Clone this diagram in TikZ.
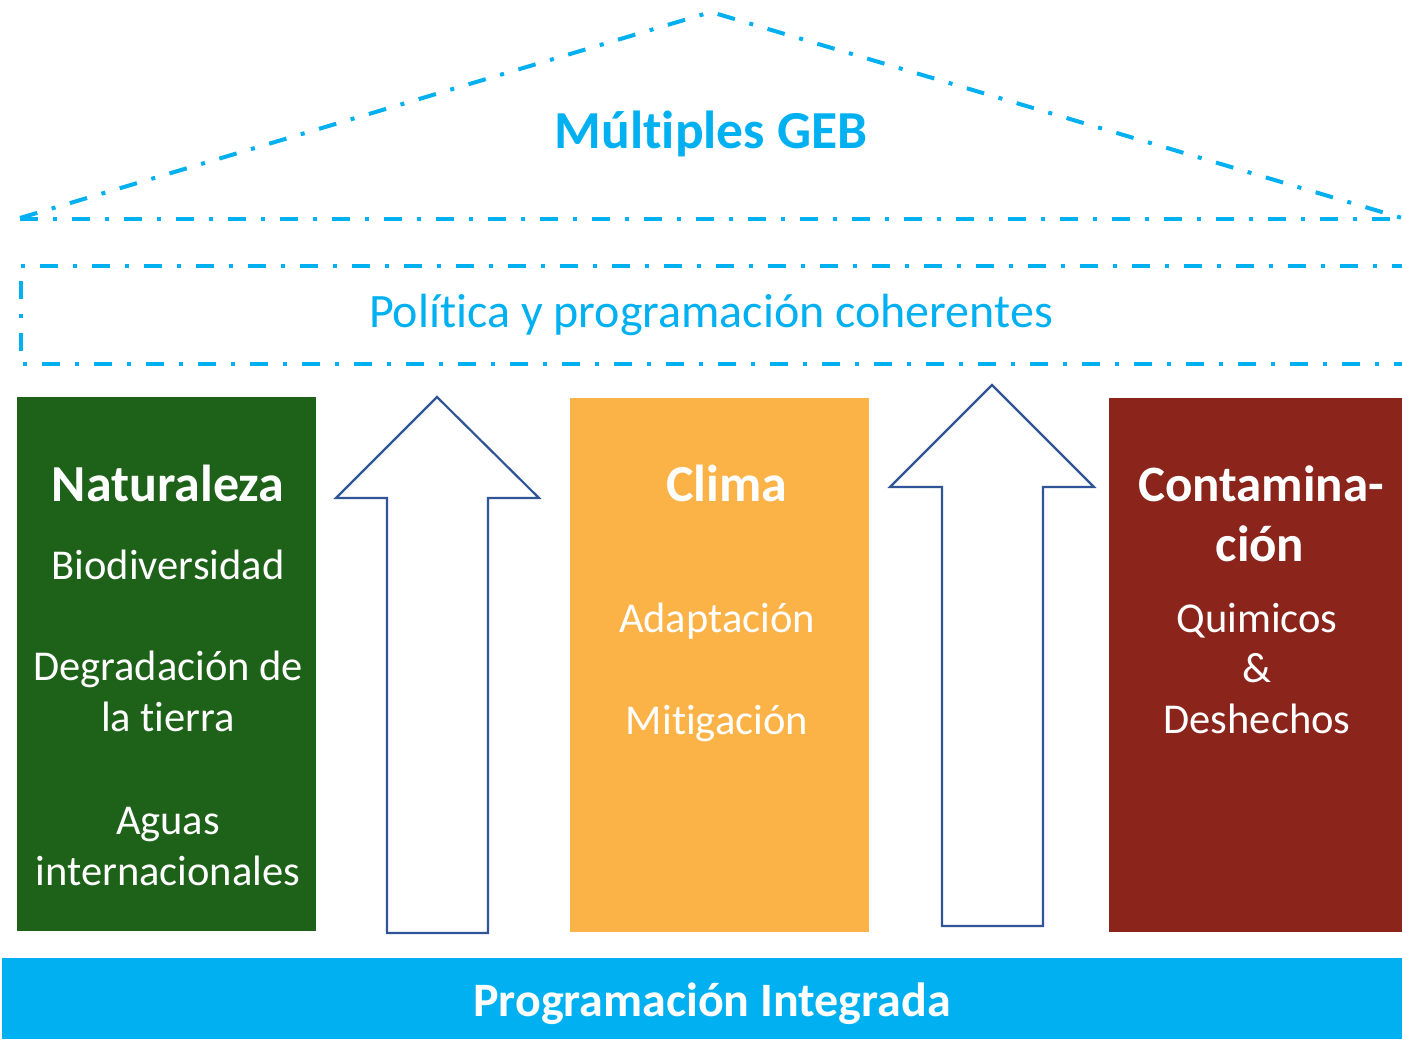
\documentclass[tikz,border=0pt]{standalone}
\usepackage{fontspec}
\setmainfont{Carlito}[Ligatures=NoCommon]
\definecolor{gebblue}{HTML}{00B0F0}
\definecolor{natgreen}{HTML}{1E6219}
\definecolor{climorange}{HTML}{FBB247}
\definecolor{contred}{HTML}{8B251C}
\definecolor{arrowblue}{HTML}{2F5597}
\begin{document}
\begin{tikzpicture}[x=1pt,y=-1pt,
  dashdot/.style={draw=gebblue,line width=4pt,dash pattern=on 18pt off 15pt on 4pt off 15pt},
  head/.style={text=white,font=\fontsize{52}{60}\selectfont\bfseries,anchor=base,inner sep=0pt},
  item/.style={text=white,font=\fontsize{42.5}{50}\selectfont,anchor=base,inner sep=0pt},
  bigarrow/.style={draw=arrowblue,line width=2.2pt,fill=white,line join=miter}]
\useasboundingbox (0,0) rectangle (1402,1039);
% roof
\draw[dashdot] (20,218) -- (711,12) -- (1402,218);
\draw[dashdot] (20,219) -- (1410,219);
\draw[dashdot] (1410,266) -- (21,266) -- (21,364) -- (1410,364);
\node[text=gebblue,font=\fontsize{53.5}{60}\selectfont\bfseries,anchor=base,inner sep=0pt] (geb) at (711,148) {Múltiples GEB};
\node[text=gebblue,font=\fontsize{48}{56}\selectfont,anchor=base,inner sep=0pt] (pol) at (711,327) {Política y programación coherentes};
% pillars
\fill[natgreen] (17,397) rectangle (316,931);
\fill[climorange] (570,398) rectangle (869,932);
\fill[contred] (1109,398) rectangle (1402,932);
% arrows
\draw[bigarrow] (437,397) -- (539,498) -- (488,498) -- (488,933) -- (387,933) -- (387,498) -- (336,498) -- cycle;
\draw[bigarrow] (992,385) -- (1094,487) -- (1043,487) -- (1043,926) -- (942,926) -- (942,487) -- (890,487) -- cycle;
% texts
\node[head] (nat) at (168,501) {Naturaleza};
\node[item] (bio) at (168,579) {Biodiversidad};
\node[item] (deg1) at (168,680) {Degradación de};
\node[item] (deg2) at (168,731) {la tierra};
\node[item] (agu1) at (168,834) {Aguas};
\node[item] (agu2) at (168,885) {internacionales};
\node[head] (cli) at (727,501) {Clima};
\node[item] (ada) at (717,632) {Adaptación};
\node[item] (mit) at (717,734) {Mitigación};
\node[head,font=\fontsize{51}{60}\selectfont\bfseries] (con1) at (1261,501) {Contamina-};
\node[head,font=\fontsize{51}{60}\selectfont\bfseries] (con2) at (1260,561) {ción};
\node[item] (qui) at (1257,632) {Quimicos};
\node[item] (amp) at (1257,682) {\&};
\node[item] (des) at (1257,733) {Deshechos};
% base bar
\fill[gebblue] (2,958) rectangle (1402,1039);
\node[text=white,font=\fontsize{48}{56}\selectfont\bfseries,anchor=base,inner sep=0pt] (prog) at (712,1016) {Programación Integrada};
\end{tikzpicture}
\end{document}
